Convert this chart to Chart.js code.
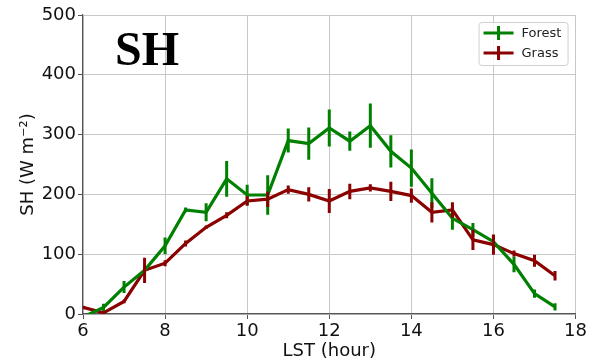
<!DOCTYPE html>
<html><head><meta charset="utf-8">
<script src="https://cdn.jsdelivr.net/npm/chart.js@4/dist/chart.umd.min.js"></script>
<style>html,body{margin:0;padding:0;background:#fff}canvas{display:block}</style>
</head><body>
<canvas id="c" width="589" height="364"></canvas>
<script>
const hours = [6.0,6.5,7.0,7.5,8.0,8.5,9.0,9.5,10.0,10.5,11.0,11.5,12.0,12.5,13.0,13.5,14.0,14.5,15.0,15.5,16.0,16.5,17.0,17.5];
const forest = [-5,11,45,73,114,174,170,226,199,199,290,285,311,289,315,272,244,202,160,141,121,83,34,12];
const forestErr = [4,6,10,6,14,4,15,30,17,33,20,27,31,16,37,27,31,25,19,11,11,13,7,6];
const grass = [11,2,21,73,85,118,145,165,189,192,208,200,189,205,211,205,198,170,174,124,116,101,89,64];
const grassErr = [3,3,3,21,5,5,3,5,8,13,7,12,20,13,6,16,12,17,13,17,17,5,10,8];
const xTicks = [6,8,10,12,14,16,18];
const yTicks = [0,100,200,300,400,500];
const seriesNames = ['Forest','Grass'];
const colors = ['#008000','#8b0000'];

const errPlugin = {
  id:'err',
  afterDatasetsDraw(chart){
    const ctx = chart.ctx, xs = chart.scales.x, ys = chart.scales.y, a = chart.chartArea;
    ctx.save();
    ctx.beginPath(); ctx.rect(a.left, a.top, a.right-a.left, a.bottom-a.top); ctx.clip();
    chart.data.datasets.forEach((ds)=>{
      ctx.strokeStyle = ds.borderColor; ctx.lineWidth = 3;
      ds.data.forEach((p,i)=>{
        const e = ds.err[i];
        const x = xs.getPixelForValue(p.x);
        ctx.beginPath();
        ctx.moveTo(x, ys.getPixelForValue(p.y - e));
        ctx.lineTo(x, ys.getPixelForValue(p.y + e));
        ctx.stroke();
      });
    });
    ctx.restore();
    // title text
    ctx.save();
    ctx.fillStyle = '#000';
    ctx.font = 'bold 48px "Liberation Serif", "DejaVu Serif", serif';
    ctx.textBaseline = 'alphabetic';
    ctx.fillText('SH', a.left + 32, a.top + 50);
    ctx.restore();
    // legend
    ctx.save();
    const bx = a.right - 97, by = a.top + 7, bw = 89, bh = 43;
    ctx.fillStyle = 'rgba(255,255,255,0.8)';
    ctx.strokeStyle = '#d0d0d0'; ctx.lineWidth = 1;
    ctx.beginPath();
    if (ctx.roundRect) ctx.roundRect(bx+0.5, by+0.5, bw, bh, 3); else ctx.rect(bx+0.5, by+0.5, bw, bh);
    ctx.fill(); ctx.stroke();
    chart.data.datasets.forEach((ds,i)=>{
      const y = by + 11 + i*20;
      ctx.strokeStyle = ds.borderColor; ctx.lineWidth = 3;
      ctx.beginPath(); ctx.moveTo(bx+5, y); ctx.lineTo(bx+35, y); ctx.stroke();
      ctx.beginPath(); ctx.moveTo(bx+20, y-7); ctx.lineTo(bx+20, y+7); ctx.stroke();
      ctx.fillStyle = '#222';
      ctx.font = '13px "DejaVu Sans", sans-serif';
      ctx.textBaseline = 'middle';
      ctx.fillText(ds.label, bx+43, y+1);
    });
    ctx.restore();
  }
};

const datasets = [forest, grass].map((vals,k)=>({
  label: seriesNames[k],
  data: hours.map((h,i)=>({x:h, y:vals[i]})),
  err: k===0 ? forestErr : grassErr,
  borderColor: colors[k],
  backgroundColor: colors[k],
  borderWidth: 3.2,
  pointRadius: 0,
  tension: 0,
  clip: 0
}));

new Chart(document.getElementById('c'), {
  type:'line',
  data:{datasets},
  options:{
    responsive:false, animation:false,
    layout:{padding:{top:15,right:13,left:0,bottom:0}},
    plugins:{legend:{display:false}, tooltip:{enabled:false}},
    scales:{
      x:{type:'linear', min:6, max:18,
        afterBuildTicks(s){ s.ticks = xTicks.map(v=>({value:v})); },
        afterFit(s){ s.height = 50; },
        grid:{color:'#c8c8c8', lineWidth:1, tickLength:5, tickColor:'#555', drawTicks:true},
        border:{color:'#555', width:1.2},
        ticks:{color:'#111', font:{size:18, family:'"DejaVu Sans", sans-serif'}, padding:2, maxRotation:0},
        title:{display:true, text:'LST (hour)', color:'#111', font:{size:18, family:'"DejaVu Sans", sans-serif'}, padding:{top:0,bottom:2}}
      },
      y:{type:'linear', min:0, max:500,
        afterBuildTicks(s){ s.ticks = yTicks.map(v=>({value:v})); },
        afterFit(s){ s.width = 83; },
        grid:{color:'#c8c8c8', lineWidth:1, tickLength:5, tickColor:'#555'},
        border:{color:'#555', width:1.2},
        ticks:{color:'#111', font:{size:18, family:'"DejaVu Sans", sans-serif'}, padding:2},
        title:{display:true, text:'SH (W m⁻²)', color:'#111', font:{size:18, family:'"DejaVu Sans", sans-serif'}, padding:{top:18,bottom:0}}
      }
    }
  },
  plugins:[errPlugin]
});
</script>
</body></html>
